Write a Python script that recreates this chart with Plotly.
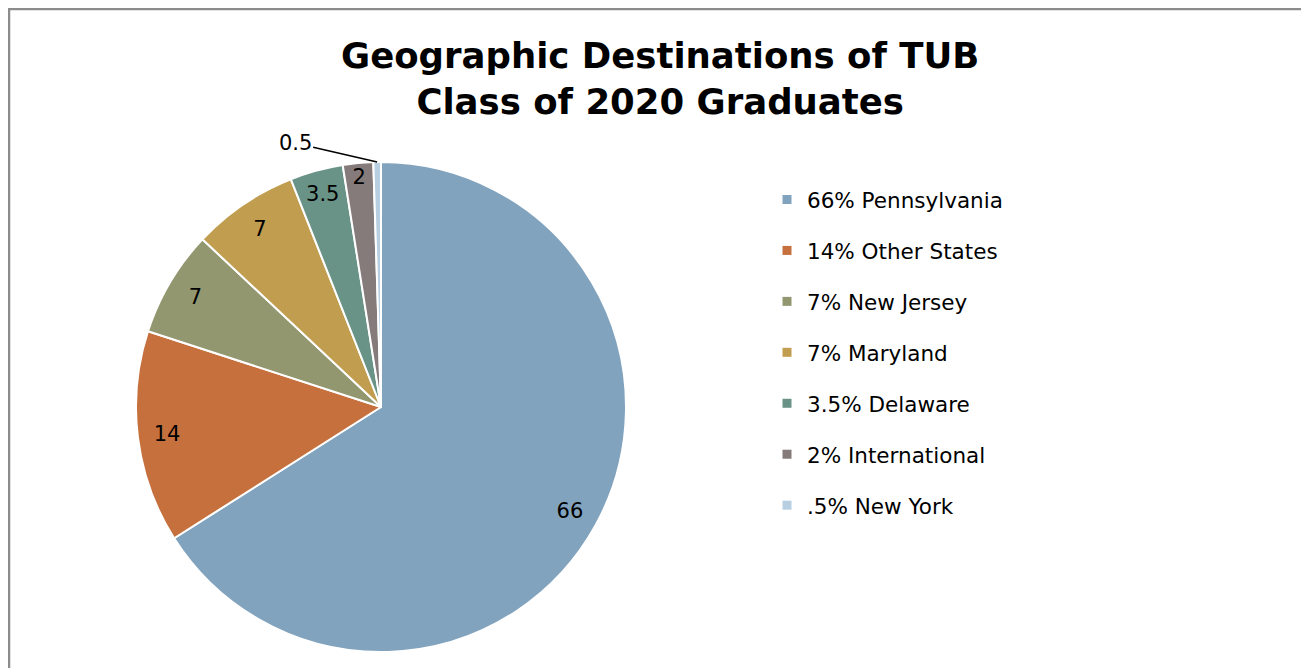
import math
import plotly.graph_objects as go

categories = ["Pennsylvania", "Other States", "New Jersey", "Maryland", "Delaware", "International", "New York"]
values = [66, 14, 7, 7, 3.5, 2, 0.5]
legend_labels = ["66% Pennsylvania", "14% Other States", "7% New Jersey", "7% Maryland",
                 "3.5% Delaware", "2% International", ".5% New York"]
colors = ["#82A3BE", "#C5703D", "#939770", "#C19D50", "#6A9387", "#857B7A", "#B8CFE2"]
title_text = "Geographic Destinations of TUB<br>Class of 2020 Graduates"

W, H = 1309, 668
OFF = 8  # page body margin
cx, cy, R = 381 - OFF, 407 - OFF, 245
domain = dict(x=[(cx - R) / W, (cx + R) / W], y=[1 - (cy + R) / H, 1 - (cy - R) / H])

fig = go.Figure()
# coloured slices
fig.add_trace(go.Pie(
    labels=categories, values=values, sort=False, direction="clockwise", rotation=0,
    marker=dict(colors=colors, line=dict(color="white", width=2)),
    textinfo="none", showlegend=False, hoverinfo="label+value", domain=domain,
))
# transparent ring overlay that carries the value labels near the outer edge
inner_text = [str(v) if v >= 1 else "" for v in values]
fig.add_trace(go.Pie(
    labels=categories, values=values, sort=False, direction="clockwise", rotation=0,
    hole=0.76,
    marker=dict(colors=["rgba(0,0,0,0)"] * len(values), line=dict(width=0)),
    text=inner_text, textinfo="text", textposition="inside",
    insidetextorientation="horizontal",
    textfont=dict(family="DejaVu Sans", size=21, color="black"),
    showlegend=False, hoverinfo="skip", domain=domain,
))

for name, col in zip(legend_labels, colors):
    fig.add_trace(go.Scatter(
        x=[None], y=[None], mode="markers", name=name, legendgroup=name,
        marker=dict(symbol="square", size=9, color=col),
        showlegend=True,
    ))

# leader-line label for the tiny slice, located from the data
total = sum(values)
mid_frac = (sum(values[:-1]) + values[-1] / 2) / total
theta = 2 * math.pi * mid_frac
px = cx + R * math.sin(theta)
py = cy - R * math.cos(theta)

fig.update_layout(
    width=W, height=H,
    margin=dict(l=0, r=0, t=0, b=0),
    paper_bgcolor="white", plot_bgcolor="white",
    xaxis=dict(visible=False), yaxis=dict(visible=False),
    legend=dict(
        x=(795 - OFF - 20 - 8) / W, xanchor="left", y=1 - (171) / H, yanchor="top",
        font=dict(family="DejaVu Sans", size=21.5, color="black"),
        tracegroupgap=20, itemwidth=30, bgcolor="rgba(0,0,0,0)",
    ),
    annotations=[
        dict(text=title_text, xref="paper", yref="paper",
             x=(660 - OFF) / W, y=1 - (78 - OFF) / H, xanchor="center", yanchor="middle",
             showarrow=False, align="center",
             font=dict(family="DejaVu Sans", size=35.5, color="black", weight="bold")),
        dict(text=str(values[-1]), xref="paper", yref="paper",
             x=px / W, y=1 - py / H, showarrow=True, arrowhead=0, arrowwidth=1.5,
             arrowcolor="black", ax=-82, ay=-19, standoff=0,
             font=dict(family="DejaVu Sans", size=21, color="black")),
    ],
    shapes=[dict(type="rect", xref="paper", yref="paper",
                 x0=1 / W, x1=1.05, y0=-0.05, y1=1 - 1 / H,
                 line=dict(color="#8C8C8C", width=2.5))],
)

fig.write_html("out.html")
